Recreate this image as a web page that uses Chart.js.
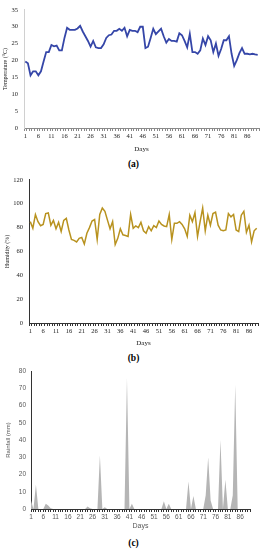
<!DOCTYPE html>
<html lang="en">
<head>
<meta charset="UTF-8">
<title>Temperature, humidity and rainfall</title>
<script src="https://cdn.jsdelivr.net/npm/chart.js"></script>
<style>
  body { margin: 0; width: 267px; height: 550px; background: #fff; position: relative; overflow: hidden; }
  .panel { position: absolute; left: 0; width: 267px; }
  .cap { position: absolute; left: 0; width: 267px; text-align: center; font: bold 9.5px "Liberation Serif", serif; color: #000; }
</style>
</head>
<body>
<div class="panel" style="top:0;height:154px"><canvas id="tempChart"></canvas></div>
<div class="cap" style="top:159px">(a)</div>
<div class="panel" style="top:170px;height:178px"><canvas id="humChart"></canvas></div>
<div class="cap" style="top:353px">(b)</div>
<div class="panel" style="top:362px;height:169px"><canvas id="rainChart"></canvas></div>
<div class="cap" style="top:538px">(c)</div>

<script>
// daily values
var temperature = [
  19.7, 19.2, 15.6, 16.8, 16.8, 15.6, 16.8, 19.7, 22.5, 22.5,
  24.6, 24.2, 24.4, 23.0, 23.0, 26.7, 29.7, 29.1, 29.1, 29.1,
  29.5, 30.3, 28.6, 27.2, 25.8, 24.1, 25.8, 23.9, 23.7, 23.7,
  24.8, 26.7, 27.5, 27.7, 28.8, 28.8, 29.4, 28.8, 29.7, 27.2,
  29.1, 28.8, 28.8, 28.4, 30.0, 30.0, 23.7, 24.1, 26.7, 29.4,
  27.8, 28.6, 29.4, 27.2, 25.3, 26.4, 25.8, 25.8, 25.6, 28.1,
  27.5, 25.8, 23.9, 27.9, 22.5, 22.5, 22.0, 23.0, 26.5, 24.6,
  27.2, 26.0, 22.5, 25.0, 21.4, 23.4, 26.0, 26.0, 27.2, 22.0,
  18.4, 20.1, 22.2, 23.7, 22.0, 22.0, 21.8, 22.0, 21.8, 21.7
];
var humidity = [
  85, 79.5, 91, 85, 81.6, 82.7, 91.8, 92.3, 82, 86,
  79, 84.4, 76.7, 86, 87.7, 78, 70, 69.3, 68, 71,
  71.8, 66.3, 75.3, 80, 85.5, 86.8, 70, 91, 96.4, 93.7,
  86.3, 79, 85, 65.8, 71, 79, 74, 73.4, 72.6, 91,
  79.5, 81.4, 80, 84.4, 77.3, 75.3, 80.8, 77.3, 81.6, 80,
  85.5, 82.7, 81.4, 80.8, 91, 70, 83.6, 83.6, 85, 82.7,
  79, 72.6, 90.4, 85, 92.6, 72.6, 85, 96.4, 77.3, 90.4,
  82, 91.8, 93, 82, 78, 77.3, 78, 91.8, 89, 91,
  78, 76.7, 90.4, 93.7, 76, 82, 68, 77.3, 79.5
];
var rainfall = [
  5, 0, 14, 0, 0, 0, 3, 2, 0.5, 0,
  0, 0, 0, 0, 0, 0, 0, 0, 0, 0,
  0, 0, 0, 1.5, 0.5, 0, 0, 0, 31, 0,
  1, 0, 0, 0, 0, 0, 0, 0, 0, 76,
  0, 3, 0, 0, 0, 0, 0, 0, 0, 0,
  0, 0, 0, 0, 4.5, 0, 3, 0, 0, 0,
  0, 0, 0, 0, 16, 0, 7.5, 0, 0, 0,
  0, 8, 30, 5, 0, 0, 0, 40, 0, 17,
  0, 0, 8, 72, 0, 0, 0, 0, 0, 0
];

function dayLabels(n) {
  var out = [];
  for (var i = 1; i <= n; i++) out.push(String(i));
  return out;
}

Chart.defaults.font.family = '"Liberation Serif", serif';
Chart.defaults.font.size = 6.5;
Chart.defaults.color = '#222';
Chart.defaults.animation = false;

function makeChart(id, o) {
  return new Chart(document.getElementById(id), {
    type: 'line',
    data: {
      labels: dayLabels(o.data.length),
      datasets: [{
        data: o.data,
        borderColor: o.line,
        borderWidth: o.lineWidth,
        backgroundColor: o.fillColor || 'transparent',
        fill: o.fillColor ? 'origin' : false,
        pointRadius: 0,
        tension: 0
      }]
    },
    options: {
      responsive: true,
      maintainAspectRatio: false,
      layout: { padding: o.padding },
      plugins: { legend: { display: false }, tooltip: { enabled: false } },
      scales: {
        x: {
          offset: o.offset,
          border: { display: true, color: o.axisColor },
          grid: { display: true, drawOnChartArea: false, tickLength: 3, color: o.axisColor, offset: o.offset },
          ticks: {
            autoSkip: false, maxRotation: 0, padding: 1, color: o.textColor,
            font: { family: o.font },
            callback: function (v, i) { return i % 5 === 0 ? this.getLabelForValue(v) : ''; }
          },
          title: { display: true, text: 'Days', color: o.textColor, font: { family: o.font, size: 7 }, padding: { top: 0, bottom: 1 } },
          afterFit: function (s) { s.height = o.xHeight; }
        },
        y: {
          min: 0, max: o.max,
          border: { display: true, color: o.yAxisColor },
          grid: { display: false, drawTicks: false },
          ticks: { stepSize: o.step, padding: o.tickPad, color: o.textColor, font: { family: o.font } },
          title: { display: true, text: o.yTitle, color: o.textColor, font: { family: o.font, size: 6 }, padding: { top: o.titlePad, bottom: 0 } },
          afterFit: function (s) { s.width = o.yWidth; }
        }
      }
    }
  });
}

makeChart('tempChart', {
  data: temperature, line: '#3546a8', lineWidth: 1.8, offset: true,
  max: 35, step: 5, yTitle: 'Temperature (\u00b0C)',
  padding: { top: 4, right: 8, left: 0, bottom: 0 },
  yWidth: 24, xHeight: 26, tickPad: 6, titlePad: 2,
  axisColor: '#8a8a8a', yAxisColor: '#d0d0d0', textColor: '#222', font: '"Liberation Serif", serif'
});

makeChart('humChart', {
  data: humidity, line: '#b8921f', lineWidth: 1.5, offset: true,
  max: 120, step: 20, yTitle: 'Humidity (%)',
  padding: { top: 7, right: 9, left: 0, bottom: 0 },
  yWidth: 29, xHeight: 25, tickPad: 6, titlePad: 4,
  axisColor: '#333', yAxisColor: '#333', textColor: '#222', font: '"Liberation Serif", serif'
});

makeChart('rainChart', {
  data: rainfall, line: '#b5b5b5', lineWidth: 0, fillColor: '#b5b5b5', offset: false,
  max: 80, step: 10, yTitle: 'Rainfall (mm)',
  padding: { top: 9, right: 17, left: 0, bottom: 0 },
  yWidth: 31, xHeight: 22, tickPad: 5, titlePad: 5,
  axisColor: '#333', yAxisColor: '#333', textColor: '#595959', font: '"Liberation Sans", sans-serif'
});
</script>
</body>
</html>
